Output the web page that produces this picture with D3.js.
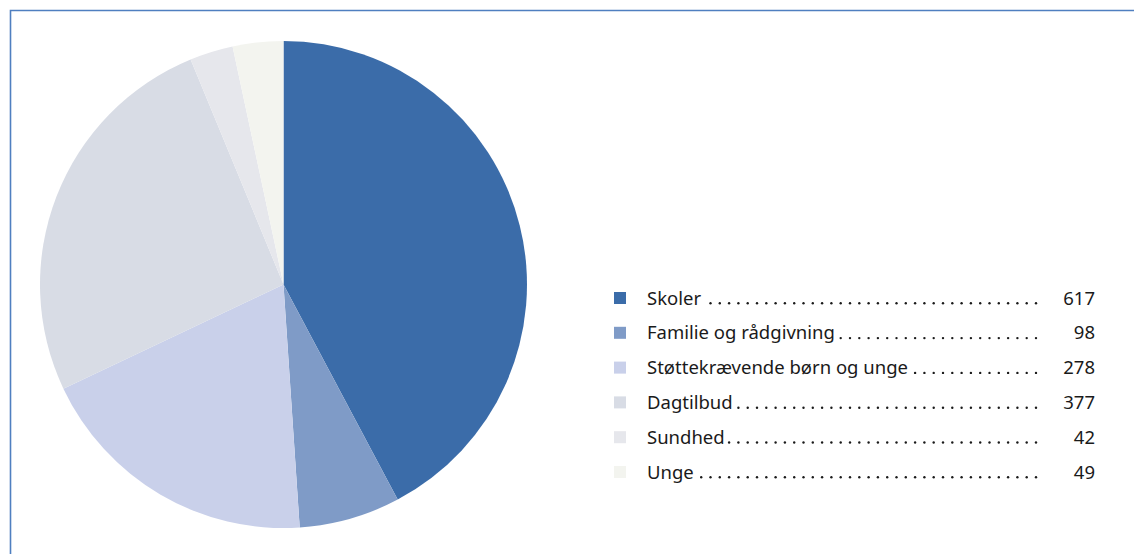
<!DOCTYPE html>
<html><head><meta charset="utf-8">
<script src="https://cdn.jsdelivr.net/npm/d3@7"></script>
<style>body{margin:0;background:#fff}svg{display:block}</style>
</head><body>
<svg id="c" width="1134" height="554"></svg>
<script>
const categories = ["Skoler","Familie og rådgivning","Støttekrævende børn og unge","Dagtilbud","Sundhed","Unge"];
const values = [617, 98, 278, 377, 42, 49];
const colors = ["#3b6ca9","#7f9bc7","#c9d0ea","#d8dce5","#e6e7ec","#f3f4ef"];

const svg = d3.select("#c");
// frame
svg.append("path").attr("d","M10.5,554 L10.5,10.5 L1134,10.5")
  .attr("fill","none").attr("stroke","#4f7fc0").attr("stroke-width",1.6);

const cx = 283.5, cy = 284.5, r = 243.5;
const pie = d3.pie().sort(null).value(d=>d)(values);
const arc = d3.arc().innerRadius(0).outerRadius(r);
svg.append("g").attr("transform",`translate(${cx},${cy})`)
  .selectAll("path").data(pie).join("path")
  .attr("d",arc).attr("fill",(d,i)=>colors[i]);

const y = d3.scalePoint().domain(categories).range([298, 472]);
const lg = svg.append("g").attr("font-family","'Noto Sans', sans-serif").attr("font-size",18.5).attr("fill","#1a1a1a");
const dotEnd = 1036, step = 9.3;
categories.forEach((c,i)=>{
  const yy = y(c);
  lg.append("rect").attr("x",614).attr("y",yy-6).attr("width",12).attr("height",12).attr("fill",colors[i]);
  const t = lg.append("text").attr("x",647).attr("y",yy+6.5).text(c);
  const w = t.node().getComputedTextLength();
  for(let x=dotEnd; x>647+w+4; x-=step){
    lg.append("circle").attr("cx",x).attr("cy",yy+5.3).attr("r",1.2).attr("fill","#1a1a1a");
  }
  lg.append("text").attr("x",1095).attr("y",yy+6.5).attr("text-anchor","end").text(values[i]);
});
</script>
</body></html>
